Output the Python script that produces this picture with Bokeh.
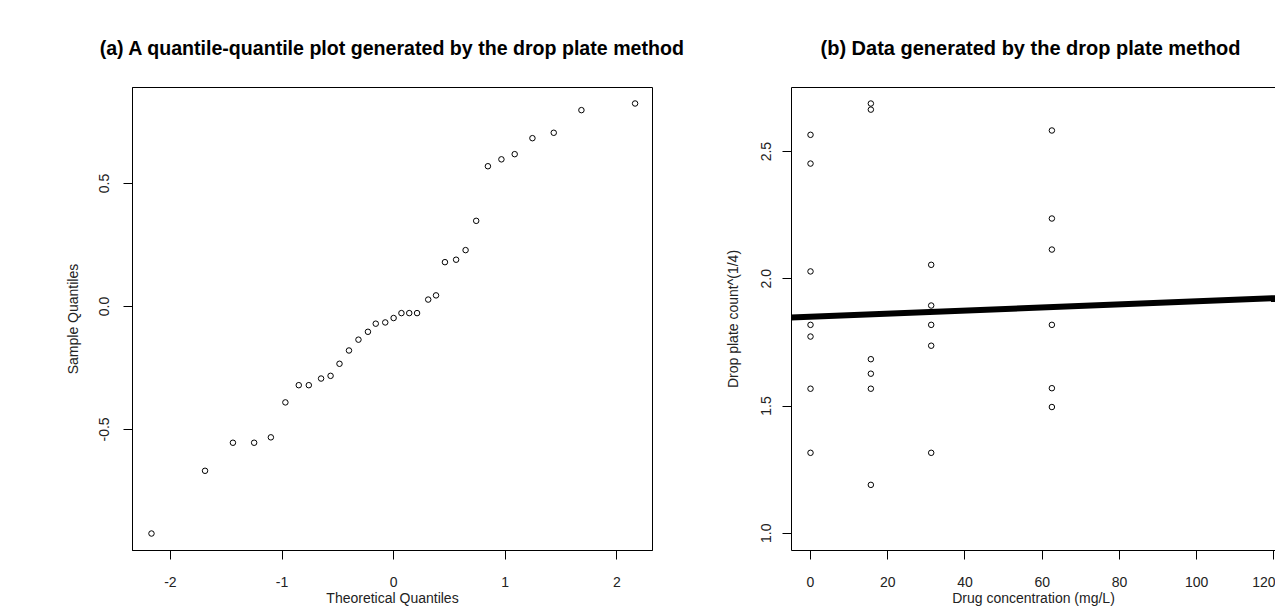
from bokeh.plotting import figure
from bokeh.layouts import row
from bokeh.models import (Range1d, FixedTicker, PrintfTickFormatter, LinearAxis,
                          Slope, ColumnDataSource)
from bokeh.embed import file_html
from bokeh.resources import INLINE

# ---- data: panel (a) normal QQ plot ----
theoretical_q = [-2.17, -1.69, -1.44, -1.25, -1.10, -0.97, -0.85, -0.76, -0.65, -0.565,
                 -0.485, -0.40, -0.315, -0.23, -0.16, -0.075, 0.0, 0.07, 0.14, 0.21,
                 0.31, 0.38, 0.46, 0.56, 0.645, 0.74, 0.845, 0.966, 1.085, 1.244,
                 1.435, 1.683, 2.164]
sample_q = [-0.923, -0.668, -0.554, -0.554, -0.532, -0.39, -0.32, -0.32, -0.293, -0.282,
            -0.233, -0.179, -0.135, -0.103, -0.070, -0.065, -0.047, -0.027, -0.027, -0.027,
            0.028, 0.045, 0.18, 0.19, 0.229, 0.348, 0.570, 0.598, 0.619, 0.684,
            0.706, 0.798, 0.825]

# ---- data: panel (b) drop plate counts ----
dose = [0, 0, 0, 0, 0, 0, 0,
        15.625, 15.625, 15.625, 15.625, 15.625, 15.625,
        31.25, 31.25, 31.25, 31.25, 31.25,
        62.5, 62.5, 62.5, 62.5, 62.5, 62.5]
count_quarter = [2.566, 2.453, 2.029, 1.819, 1.773, 1.568, 1.316,
                 2.689, 2.665, 1.684, 1.627, 1.568, 1.190,
                 2.055, 1.895, 1.819, 1.737, 1.316,
                 2.583, 2.237, 2.115, 1.819, 1.570, 1.496]
fit_intercept = 1.851
fit_slope = 0.000607

qq_x_ticks = [-2, -1, 0, 1, 2]
qq_y_ticks = [-0.5, 0.0, 0.5]
dp_x_ticks = [0, 20, 40, 60, 80, 100, 120]
dp_y_ticks = [1.0, 1.5, 2.0, 2.5]

TITLE_FONT = "Liberation Sans"
FONT = "Liberation Sans"
TXT = "#222222"


def style_axis(ax, orient_vertical=False):
    ax.major_label_text_font = FONT
    ax.major_label_text_font_size = "14px"
    ax.major_label_text_color = TXT
    ax.axis_label_text_font = FONT
    ax.axis_label_text_font_size = "14px"
    ax.axis_label_text_font_style = "normal"
    ax.axis_label_text_color = TXT
    ax.major_tick_out = 9
    ax.major_tick_in = 0
    ax.minor_tick_out = 0
    ax.minor_tick_in = 0
    ax.major_tick_line_color = "black"
    ax.axis_line_color = "black"
    if orient_vertical:
        ax.major_label_orientation = "vertical"


# ---------------- panel (a) ----------------
p1 = figure(width=720, height=608, output_backend="svg", toolbar_location=None,
            x_range=Range1d(-2.34, 2.32), y_range=Range1d(-0.992, 0.89),
            min_border_left=132, min_border_right=68, min_border_top=87,
            min_border_bottom=58,
            title="(a) A quantile-quantile plot generated by the drop plate method")
p1.title.text_font = TITLE_FONT
p1.title.text_font_size = "19.6px"
p1.title.text_font_style = "bold"
p1.title.text_color = "black"
p1.title.align = "center"
p1.title.standoff = 58
p1.grid.visible = False
p1.outline_line_color = "black"
p1.outline_line_width = 1
p1.outline_line_alpha = 1
p1.background_fill_color = "white"
p1.border_fill_color = "white"

p1.xaxis.ticker = FixedTicker(ticks=qq_x_ticks)
p1.xaxis.formatter = PrintfTickFormatter(format="%d")
p1.yaxis.ticker = FixedTicker(ticks=qq_y_ticks)
p1.yaxis.formatter = PrintfTickFormatter(format="%.1f")
p1.xaxis.axis_label = "Theoretical Quantiles"
p1.yaxis.axis_label = "Sample Quantiles"
for ax in p1.xaxis:
    style_axis(ax)
    ax.major_label_standoff = 17
    ax.axis_label_standoff = 0
for ax in p1.yaxis:
    style_axis(ax, orient_vertical=True)
    ax.major_label_standoff = 14
    ax.axis_label_standoff = 16

src1 = ColumnDataSource(dict(x=theoretical_q, y=sample_q))
p1.scatter("x", "y", source=src1, marker="circle", size=5.5,
           fill_color=None, line_color="black", line_width=1)

# ---------------- panel (b) ----------------
p2 = figure(width=555, height=608, output_backend="svg", toolbar_location=None,
            x_range=Range1d(-4.92, 120.4), y_range=Range1d(0.932, 2.752),
            min_border_left=71, min_border_right=0, min_border_top=87,
            min_border_bottom=58,
            title="(b) Data generated by the drop plate method")
p2.title.text_font = TITLE_FONT
p2.title.text_font_size = "20px"
p2.title.text_font_style = "bold"
p2.title.text_color = "black"
p2.title.align = "left"
p2.title.offset = 29
p2.title.standoff = 58
p2.grid.visible = False
p2.outline_line_color = None
p2.background_fill_color = "white"
p2.border_fill_color = "white"

bottom_axis = p2.below[0]
left_axis = p2.left[0]

# top border of the (cut-off) box
top_axis = LinearAxis(ticker=FixedTicker(ticks=[]), axis_label=None,
                      major_label_text_font_size="0px",
                      axis_line_color="black", major_tick_out=0, major_tick_in=0,
                      minor_tick_out=0, minor_tick_in=0, major_label_standoff=0)
p2.add_layout(top_axis, "above")

bottom_axis.ticker = FixedTicker(ticks=dp_x_ticks)
bottom_axis.formatter = PrintfTickFormatter(format="%d")
left_axis.ticker = FixedTicker(ticks=dp_y_ticks)
left_axis.formatter = PrintfTickFormatter(format="%.1f")
bottom_axis.axis_label = "Drug concentration (mg/L)"
left_axis.axis_label = "Drop plate count^(1/4)"
style_axis(bottom_axis)
bottom_axis.major_label_standoff = 17
bottom_axis.axis_label_standoff = 0
style_axis(left_axis, orient_vertical=True)
left_axis.major_label_standoff = 11
left_axis.axis_label_standoff = 18

p2.add_layout(Slope(gradient=fit_slope, y_intercept=fit_intercept,
                    line_color="black", line_width=6))
src2 = ColumnDataSource(dict(x=dose, y=count_quarter))
p2.scatter("x", "y", source=src2, marker="circle", size=5.5,
           fill_color=None, line_color="black", line_width=1)

layout = row(p1, p2)
open("out.html", "w").write(file_html(layout, INLINE))
